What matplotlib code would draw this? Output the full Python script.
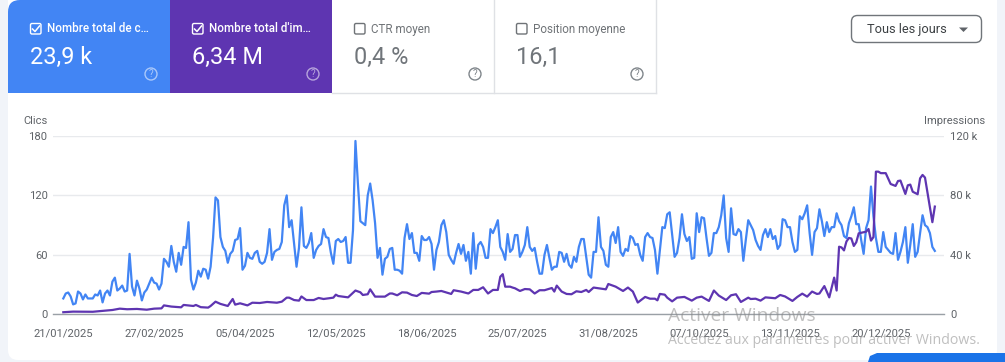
import matplotlib
matplotlib.use("Agg")
import matplotlib.pyplot as plt
import numpy as np
from matplotlib.patches import FancyBboxPatch, Rectangle, Circle, Polygon

plt.rcParams['font.family'] = ['Roboto', 'DejaVu Sans']

date_labels = ["21/01/2025", "27/02/2025", "05/04/2025", "12/05/2025", "18/06/2025",
               "25/07/2025", "31/08/2025", "07/10/2025", "13/11/2025", "20/12/2025"]
date_days = [0, 37, 74, 111, 148, 185, 222, 259, 296, 333]

# clicks, one value per day
clicks_a = [16,21,22,18,10,11,23,21,15,20,16,16,16,20,19,24,12,21,24,19,33,37,24,26,29,23,24,61,28,19,
            34,26,14,22,25,31,37,32,31,25,31,56,53,48,69,53,43,62,50,68,67,93,35,25,32,44,38,46,45,36,
            48,77,118,115,78,68,64,52,61,64,75,76,87,45,49,62,57,56,62,64,53,51,53,62,86,55,63,65,66,73,
            110,120,88,95,72,48,67,108,69,67,72,82,57,65,69,71,86,78,77,62,51]
clicks_b = [74,76,73,74,78,52,52,85,175,132,94,92,90,120,132,115,92,57,67,40,56,58,66,67,45,45,44,41,77,91,
            76,82,62,62,54,79,75,75,78,71,45,65,73,90,95,83,60,55,51,62,71,61,70,54,63,41,82,46,70,73,
            68,57,57,86,82,88,95,68,63,55,81,63,66,80,80,58,63,70,88,68,64,67,53,41,41,60,70,57,45,48,
            48,63,62,53,61,50,47,58,53,68,76,76,58,40,37,63,63,98,68,64,50,48,78,83,72,88,63,59,66,64,
            79,77,70,71,60,54,78,82,78,77,65,41,65,88,87,101,103]
clicks_c = [80,58,62,77,101,81,74,78,56,57,102,83,98,97,77,59,62,82,82,88,100,120,77,63,107,81,80,86,83,54,
            75,95,90,85,75,69,65,80,86,78,86,76,79,66,70,96,95,88,88,73,63,65,99,96,102,110,82,60,83,87,
            106,94,79,93,83,88,88,102,94,90,79,77,92,99,108,91,91,75,61,87,95,129,99,77,63,63,83,68,65,62,
            61,82,55,63,73,88,52,70,91,58,63,82,100,90,88,82,68,64]
clicks = clicks_a + clicks_b + clicks_c

# impressions in thousands, at the days where the curve visibly changes
imp_days = [0,4,12,20,23,26,30,34,37,40,41,44,48,49,53,54,56,59,60,62,64,67,69,70,72,75,77,80,83,87,89,91,92,94,96,97,99,102,104,106,110,111,112,
            116,119,121,122,124,125,127,131,133,134,136,138,140,142,144,146,149,150,152,154,158,159,162,165,167,169,171,173,175,177,178,179,180,182,183,184,186,188,190,192,194,196,199,200,201,203,205,207,209,211,213,214,216,221,222,225,228,230,232,234,237,239,241,242,243,245,246,
            248,250,253,255,256,258,260,263,265,267,270,272,274,276,279,280,282,284,286,290,292,294,297,299,301,303,305,307,308,310,312,314,315,316,317,318,319,320,321,322,323,324,327,328,329,330,331,332,333,335,337,339,340,341,343,344,345,346,348,349,350,351,354,355]
imp_vals = [1.4,1.8,1.7,2.9,3.8,3.4,3.6,3.1,3.8,4.0,6,5.2,4.7,6.3,5.6,6.3,4.8,4.5,5.6,8.5,7,5.6,10.3,6.5,7.4,6,7.8,7.6,8.3,7.8,8.5,11.2,11.2,9.6,9.2,12,9.6,9.6,11,10.3,11.2,13.2,12.3,
            11.4,16,14.8,13,13.5,16.8,11.9,11.9,14,14,12.8,14.8,14.6,13,12.3,14.4,13.9,15,15.3,15.7,13.7,16.2,15.3,14,16.4,16.4,18.2,14,16.4,16.4,25.3,27,18.6,18.6,18,17.5,15.7,17,16.8,14,16.2,16.2,17.7,15.3,19.3,15.3,13.7,13.5,15.5,15,16.4,15,18,16.8,20.4,18.6,15.7,18,15.3,7.9,11.7,10.5,10.5,9.4,13.7,13.2,11.2,
            8.7,11.2,11.7,10,9.2,11.2,11.9,9,16,12.6,9.6,12.8,13.5,8.3,11.2,10.3,10.5,9.2,11.4,10.8,13,12,9,11.7,13.9,11.9,15.3,13.7,14,19,11.4,24.7,16,45.5,45,43,49,51.4,51,46,48.5,54.5,55.6,57.4,49.6,52,96,96,95,95,87.7,86.4,89.7,90,81,86.8,87.3,82.5,80.8,91.5,93.8,92,62,72.5]

BLUE = "#4285f4"
PURPLE = "#5e35b1"
PAGE = "#f1f4f9"
TXT = "#5f6368"
W, H = 1005, 362

fig = plt.figure(figsize=(W / 100, H / 100), dpi=100, facecolor=PAGE)

# page furniture, in pixel coordinates
bg = fig.add_axes([0, 0, 1, 1], zorder=0)
bg.set_xlim(0, W); bg.set_ylim(H, 0); bg.axis("off")
card = FancyBboxPatch((8, -20), 989, 380, boxstyle="round,pad=0,rounding_size=10",
                      fc="white", ec="none")
bg.add_patch(card)
corner = FancyBboxPatch((8, 0), 989, 360, boxstyle="round,pad=0,rounding_size=12",
                        fc="none", ec="none")
bg.add_patch(corner)
tab_b = Rectangle((8, 0), 162, 93, fc=BLUE, ec="none"); bg.add_patch(tab_b); tab_b.set_clip_path(corner)
tab_p = Rectangle((170, 0), 162, 93, fc=PURPLE, ec="none"); bg.add_patch(tab_p)
bg.plot([332, 656], [92.7, 92.7], color="#dfe1e5", lw=1)
bg.plot([493.5, 493.5], [0, 93], color="#dfe1e5", lw=1)
bg.plot([655.5, 655.5], [0, 93], color="#dfe1e5", lw=1)
bg.add_patch(Polygon([[868, 362], [870, 356], [877, 353], [1005, 353], [1005, 362]], fc="#1a73e8", ec="none"))

tabs = [
    (30, 47, "Nombre total de c…", "23,9 k", 151, "white", "white", (1, 1, 1, 0.55)),
    (192, 209, "Nombre total d'im…", "6,34 M", 313, "white", "white", (1, 1, 1, 0.55)),
    (354, 371, "CTR moyen", "0,4 %", 475, "#6f7377", "#70757a", "#80868b"),
    (516, 533, "Position moyenne", "16,1", 637, "#6f7377", "#70757a", "#80868b"),
]
for i, (bx, tx, label, value, qx, c1, c2, qc) in enumerate(tabs):
    bg.add_patch(FancyBboxPatch((bx + 0.5, 23.5), 10.5, 10.5, boxstyle="round,pad=0,rounding_size=1.5",
                                fc="none", ec=c1, lw=1.0))
    if i < 2:
        bg.plot([bx + 2.5, bx + 5, bx + 9.5], [29, 31.5, 26], color="white", lw=1.1)
    bg.text(tx, 29, label, color=c1, fontsize=8.4, va="center", ha="left", fontweight="medium" if i < 2 else "normal")
    bg.text(bx, 57.5, value, color=c2, fontsize=16.9, va="center", ha="left")
    bg.add_patch(Circle((qx, 74), 6, fc="none", ec=qc, lw=1.0))
    bg.text(qx, 74, "?", color=qc, fontsize=7, va="center", ha="center")

bg.add_patch(FancyBboxPatch((851.5, 15.5), 130, 27, boxstyle="round,pad=0,rounding_size=6",
                            fc="white", ec="#70757a", lw=1.0))
bg.text(867, 29, "Tous les jours", color="#3c4043", fontsize=9.2, va="center", ha="left")
bg.add_patch(Polygon([[959, 27.5], [968, 27.5], [963.5, 32]], fc="#5f6368", ec="none"))

# chart axes
L, R, T, B = 53, 944, 136, 314.3
ax = fig.add_axes([L / W, 1 - B / H, (R - L) / W, (B - T) / H], zorder=2)
ax.patch.set_alpha(0)
PX_PER_DAY = 2.455
X0 = 63.3
ax.set_xlim((L - X0) / PX_PER_DAY, (R - X0) / PX_PER_DAY)
ax.set_ylim(0, 180)
ax2 = ax.twinx()
ax2.set_zorder(3)
ax2.patch.set_alpha(0)
ax2.set_ylim(0, 120)

ax.set_yticks([0, 60, 120, 180])
ax2.set_yticks([0, 40, 80, 120])
ax2.set_yticklabels(["0", "40 k", "80 k", "120 k"])
ax.set_xticks(date_days)
ax.set_xticklabels(date_labels)
ax.grid(axis="y", color="#e8eaed", lw=1)
ax.set_axisbelow(True)
for a in (ax, ax2):
    for s in a.spines.values():
        s.set_visible(False)
ax.spines["bottom"].set_visible(True)
ax.spines["bottom"].set_color("#9aa0a6")
ax.spines["bottom"].set_linewidth(1)
ax.tick_params(axis="both", length=0, labelsize=8.1, labelcolor=TXT)
ax.tick_params(axis="y", pad=4)
ax.tick_params(axis="x", pad=10.2)
ax2.tick_params(axis="y", length=0, labelsize=8.1, labelcolor=TXT, pad=4.5)

ax.plot(np.arange(len(clicks)), clicks, color=BLUE, lw=1.6, solid_joinstyle="round", clip_on=False, zorder=3)
ax2.plot(imp_days, imp_vals, color=PURPLE, lw=1.6, solid_joinstyle="round", clip_on=False, zorder=4)

# axis titles and watermark
top = fig.add_axes([0, 0, 1, 1], zorder=5)
top.set_xlim(0, W); top.set_ylim(H, 0); top.axis("off"); top.patch.set_alpha(0)
top.text(23, 121, "Clics", color=TXT, fontsize=8, va="center", ha="left")
top.text(924, 121, "Impressions", color=TXT, fontsize=8, va="center", ha="left")
top.text(668, 316, "Activer Windows", color="#8a8a8a", alpha=0.55, fontsize=13.8, va="center", ha="left", family=["Open Sans", "DejaVu Sans"])
top.text(668, 340, "Accédez aux paramètres pour activer Windows.", color="#8a8a8a", alpha=0.55, fontsize=10.2, va="center", ha="left", family=["Open Sans", "DejaVu Sans"])

fig.savefig("out.png", dpi=100, facecolor=fig.get_facecolor())
